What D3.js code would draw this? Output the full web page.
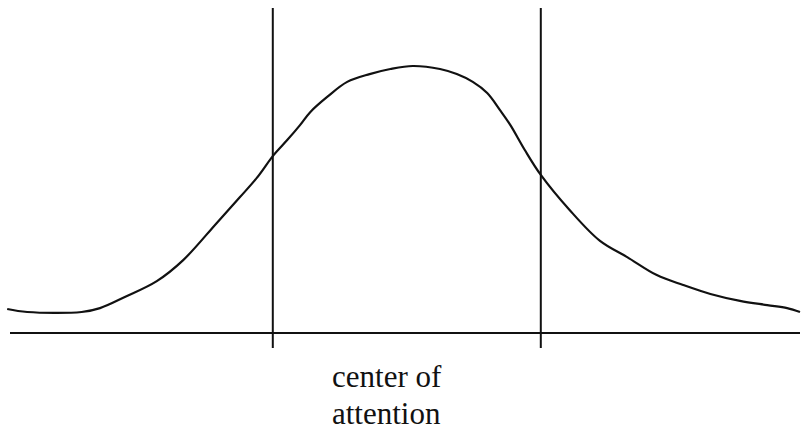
<!DOCTYPE html>
<html>
<head>
<meta charset="utf-8">
<script src="https://cdn.jsdelivr.net/npm/d3@7"></script>
<style>
  body { margin: 0; background: #fff; }
  svg { display: block; }
</style>
</head>
<body>
<script>
const width = 803;
const height = 431;

// curve (x: 0..100 across, y: 0..100 above baseline)
const curveX = [0.9, 3.4, 10.2, 12.5, 15.6, 19.6, 22.9, 27.1, 30, 32.1, 34.2, 35.9, 37.5, 38.8, 40.9, 43.4, 46.2, 48.8, 51.6, 55, 57.1, 59.1, 60.9, 62.5, 63.8, 65.6, 67.6, 71.2, 75, 78.4, 82.1, 85.4, 88.8, 92.5, 95.9, 98.4, 100];
const curveY = [8, 7, 7, 8.3, 12, 17.3, 24.3, 36.7, 45.3, 51.7, 59.3, 64.3, 69.3, 73.7, 78.7, 83.7, 86.3, 88, 89, 88, 86.3, 83.7, 80, 74.3, 69.3, 61, 52.7, 41, 30.7, 25.3, 19.3, 16, 13, 10.7, 9.3, 8.3, 7];

// vertical markers bounding the centre of attention
const markerX = [34.1, 67.6];
const markerTop = 108.3;
const markerBottom = -5;

const axisStart = 1.25;
const axisEnd = 100;

const labelLines = ["center of", "attention"];

const x = d3.scaleLinear().domain([0, 100]).range([0, 800]);
const y = d3.scaleLinear().domain([0, 100]).range([333, 33]);

const svg = d3.select("body")
    .append("svg")
    .attr("width", width)
    .attr("height", height);

// baseline
svg.append("line")
    .attr("x1", x(axisStart))
    .attr("x2", x(axisEnd))
    .attr("y1", y(0))
    .attr("y2", y(0))
    .attr("stroke", "#111")
    .attr("stroke-width", 2);

// vertical lines
svg.selectAll(".marker")
    .data(markerX)
    .enter()
    .append("line")
    .attr("class", "marker")
    .attr("x1", d => x(d))
    .attr("x2", d => x(d))
    .attr("y1", y(markerTop))
    .attr("y2", y(markerBottom))
    .attr("stroke", "#111")
    .attr("stroke-width", 2);

// the curve
const points = curveX.map((d, i) => [x(d), y(curveY[i])]);
const line = d3.line().curve(d3.curveCatmullRom.alpha(0.5));

svg.append("path")
    .attr("d", line(points))
    .attr("fill", "none")
    .attr("stroke", "#111")
    .attr("stroke-width", 2.2);

// label
svg.selectAll(".label")
    .data(labelLines)
    .enter()
    .append("text")
    .attr("class", "label")
    .attr("x", 332)
    .attr("y", (d, i) => 387 + i * 37)
    .attr("font-family", "'Liberation Serif', 'Times New Roman', serif")
    .attr("font-size", 31)
    .attr("fill", "#111")
    .text(d => d);
</script>
</body>
</html>
